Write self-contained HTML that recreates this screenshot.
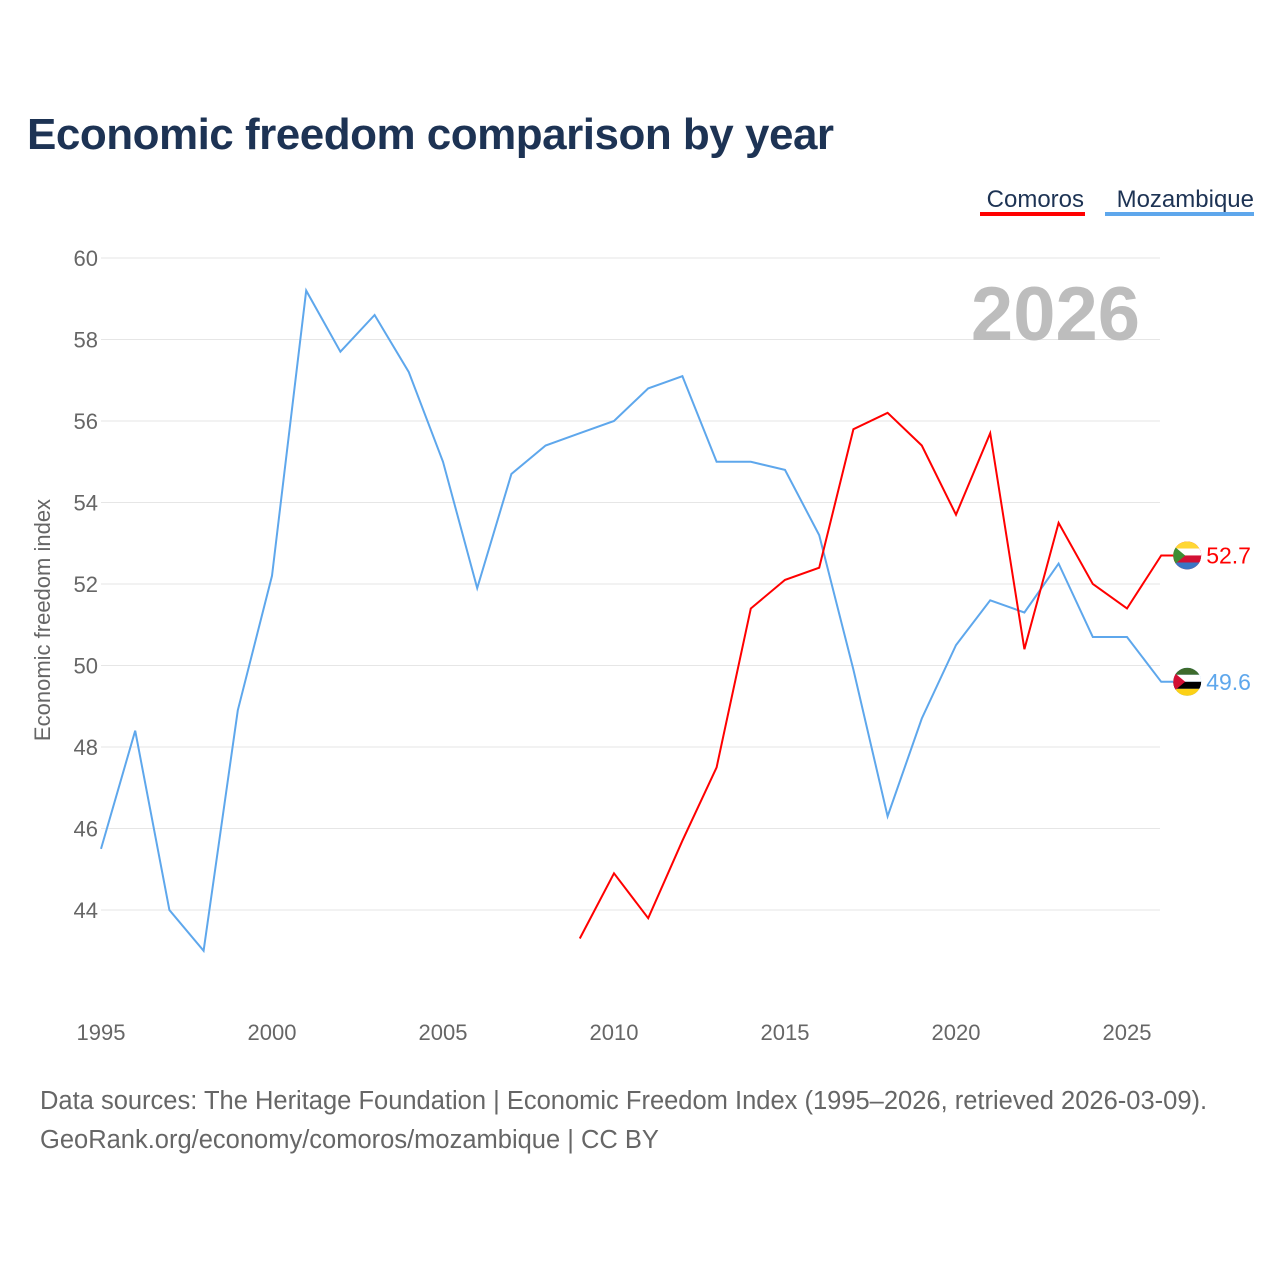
<!DOCTYPE html>
<html><head><meta charset="utf-8">
<style>
html,body{margin:0;padding:0;background:#fff;}
body{width:1280px;height:1280px;position:relative;font-family:"Liberation Sans",sans-serif;overflow:hidden;}
#title{position:absolute;left:27px;top:110px;font-size:44px;font-weight:bold;color:#1d3354;margin:0;letter-spacing:-0.5px;}
.src{position:absolute;left:40px;font-size:25.5px;color:#666;}
</style></head><body>
<h1 id="title">Economic freedom comparison by year</h1>
<svg id="chart" width="1280" height="1280" style="position:absolute;left:0;top:0"></svg>
<div class="src" style="top:1087px">Data sources: The Heritage Foundation | Economic Freedom Index (1995–2026, retrieved 2026-03-09).</div>
<div class="src" style="top:1126px">GeoRank.org/economy/comoros/mozambique | CC BY</div>
<script>
const mozYears=[1995,1996,1997,1998,1999,2000,2001,2002,2003,2004,2005,2006,2007,2008,2009,2010,2011,2012,2013,2014,2015,2016,2017,2018,2019,2020,2021,2022,2023,2024,2025,2026];
const mozValues=[45.5,48.4,44.0,43.0,48.9,52.2,59.2,57.7,58.6,57.2,55.0,51.9,54.7,55.4,55.7,56.0,56.8,57.1,55.0,55.0,54.8,53.2,49.9,46.3,48.7,50.5,51.6,51.3,52.5,50.7,50.7,49.6];
const comYears=[2009,2010,2011,2012,2013,2014,2015,2016,2017,2018,2019,2020,2021,2022,2023,2024,2025,2026];
const comValues=[43.3,44.9,43.8,45.7,47.5,51.4,52.1,52.4,55.8,56.2,55.4,53.7,55.7,50.4,53.5,52.0,51.4,52.7];
const yTicks=[44,46,48,50,52,54,56,58,60];
const xTicks=[1995,2000,2005,2010,2015,2020,2025];
const NS="http://www.w3.org/2000/svg";
const svg=document.getElementById('chart');
const X=y=>101+(y-1995)*(1026/30);
const Y=v=>258+(60-v)*(652/16);
function mk(t,a,txt){const e=document.createElementNS(NS,t);for(const k in a)e.setAttribute(k,a[k]);if(txt!==undefined)e.textContent=txt;svg.appendChild(e);return e;}
yTicks.forEach(v=>{
  const l=mk('line',{x1:101,x2:1160,y1:Y(v),y2:Y(v),stroke:'#e6e6e6','stroke-width':1});
  
  
  const t=mk('text',{x:98,y:Y(v)+8,'text-anchor':'end','font-size':22,fill:'#666'},String(v));
  
  
});
xTicks.forEach(v=>{
  const t=mk('text',{x:X(v),y:1040,'text-anchor':'middle','font-size':22,fill:'#666'},String(v));
  
  
});
const yt=mk('text',{x:0,y:0,transform:'translate(50,620) rotate(-90)','text-anchor':'middle','font-size':22,fill:'#666'},'Economic freedom index');


const yr=mk('text',{x:1140,y:340,'text-anchor':'end','font-size':76,'font-weight':'bold',fill:'#bdbdbd'},'2026');


function series(xs,vs,color,name){
  const lv=vs[vs.length-1], ly=Y(lv), lx=X(xs[xs.length-1]);
  const d=xs.map((x,i)=>(i?'L':'M')+X(x).toFixed(1)+','+Y(vs[i]).toFixed(1)).join(' ')+' L'+(lx+14).toFixed(1)+','+ly.toFixed(1);
  const p=mk('path',{d:d,fill:'none',stroke:color,'stroke-width':2});
  
  
  const c=mk('circle',{cx:lx+26,cy:ly,r:14,fill:color});
  
  
  const t=mk('text',{x:lx+45,y:ly+8,'font-size':23,fill:color},lv.toFixed(1));
  
  
  return ly;
}
series(mozYears,mozValues,'#5ea7ec','mozambique');
series(comYears,comValues,'#ff0000','comoros');
[[Y(comValues[comValues.length-1]),['#ffd734','#ffffff','#d21034','#3a75c4']],[Y(mozValues[mozValues.length-1]),['#3e6b2d','#ffffff','#000000','#fcd116']]].forEach(([cy,cols],k)=>{
  const cx=X(2026)+26;
  const cp=document.createElementNS(NS,'clipPath');cp.setAttribute('id','fc'+k);
  const cc=document.createElementNS(NS,'circle');cc.setAttribute('cx',cx);cc.setAttribute('cy',cy);cc.setAttribute('r',14);
  cp.appendChild(cc);svg.appendChild(cp);
  cols.forEach((col,i)=>{
    const r=mk('rect',{x:cx-14,y:cy-14+i*7,width:28,height:7,fill:col,'clip-path':'url(#fc'+k+')'});
    
    
  });
  const tri=mk('path',{d:`M${cx-14},${cy-10} L${cx-2},${cy} L${cx-14},${cy+10}Z`,fill:k?'#d21034':'#3d8e33','clip-path':'url(#fc'+k+')'});
  
  
});
const l1=mk('text',{x:1084,y:207,'text-anchor':'end','font-size':24,fill:'#1d3354'},'Comoros');


const u1=mk('rect',{x:980,y:212,width:105,height:4,fill:'#ff0000'});


const l2=mk('text',{x:1254,y:207,'text-anchor':'end','font-size':24,fill:'#1d3354'},'Mozambique');


const u2=mk('rect',{x:1105,y:212,width:149,height:4,fill:'#5ea7ec'});


</script>
</body></html>
